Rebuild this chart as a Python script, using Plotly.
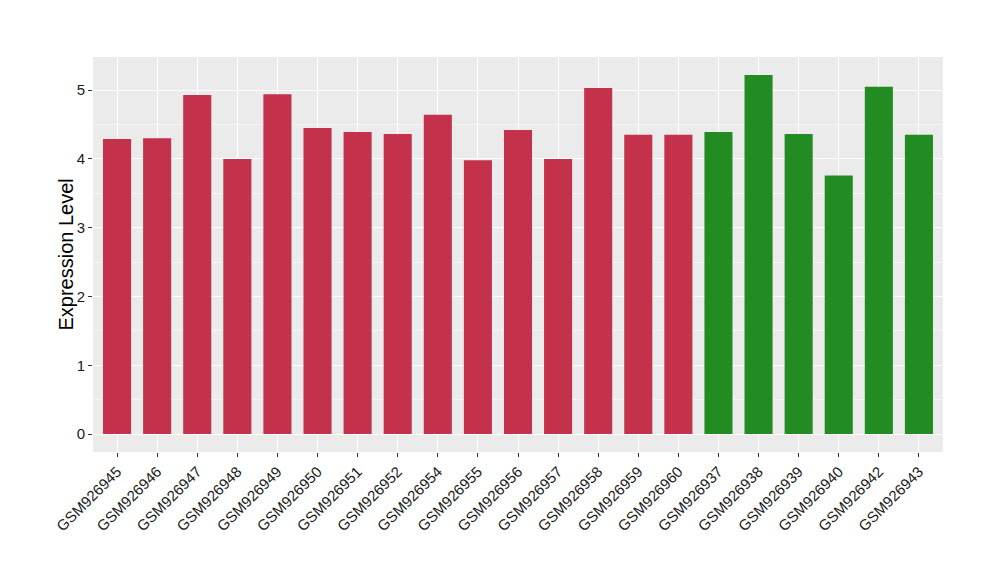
import plotly.graph_objects as go

samples = ["GSM926945", "GSM926946", "GSM926947", "GSM926948", "GSM926949", "GSM926950",
           "GSM926951", "GSM926952", "GSM926954", "GSM926955", "GSM926956", "GSM926957",
           "GSM926958", "GSM926959", "GSM926960", "GSM926937", "GSM926938", "GSM926939",
           "GSM926940", "GSM926942", "GSM926943"]
values = [4.29, 4.30, 4.93, 4.00, 4.94, 4.45, 4.39, 4.36, 4.64, 3.98, 4.42, 4.00,
          5.03, 4.35, 4.35, 4.39, 5.22, 4.36, 3.76, 5.05, 4.35]
groups = ["A"] * 15 + ["B"] * 6
group_colors = {"A": "#C3314A", "B": "#228B22"}

colors = [group_colors[g] for g in groups]

fig = go.Figure()
fig.add_trace(go.Bar(
    x=list(range(len(samples))), y=values,
    marker=dict(color=colors, line=dict(width=0)),
    width=0.7, showlegend=False,
))

ymax = max(values)
pad = 0.05 * ymax
fig.update_layout(
    width=1000, height=580,
    margin=dict(l=85, r=65, t=49, b=136),
    paper_bgcolor="white", plot_bgcolor="#EBEBEB",
    font=dict(family="Liberation Sans, Arial, sans-serif", color="#1A1A1A"),
    bargap=0.3,
)
fig.update_xaxes(
    range=[-0.6, len(samples) - 0.4],
    tickmode="array", tickvals=list(range(len(samples))), ticktext=samples,
    tickangle=-45, tickfont=dict(size=15, color="#1A1A1A"),
    ticks="outside", ticklen=4, tickcolor="#333333",
    showgrid=True, gridcolor="white", gridwidth=1.2,
    zeroline=False, showline=False,
)
fig.update_yaxes(
    range=[-pad, ymax + pad],
    tickmode="array", tickvals=[0, 1, 2, 3, 4, 5], ticktext=["0", "1", "2", "3", "4", "5"],
    tickfont=dict(size=15, color="#1A1A1A"),
    ticks="outside", ticklen=4, tickcolor="#333333",
    showgrid=True, gridcolor="white", gridwidth=1.2,
    minor=dict(tickvals=[0.5, 1.5, 2.5, 3.5, 4.5], showgrid=True, gridcolor="#F5F5F5", gridwidth=0.6, ticks=""),
    zeroline=False, showline=False,
)
fig.add_annotation(
    text="Expression Level", xref="paper", yref="paper", x=0, y=0.5,
    xanchor="center", yanchor="middle", xshift=-28, textangle=-90, showarrow=False,
    font=dict(size=20, color="#000000"),
)

fig.write_html("out.html")
